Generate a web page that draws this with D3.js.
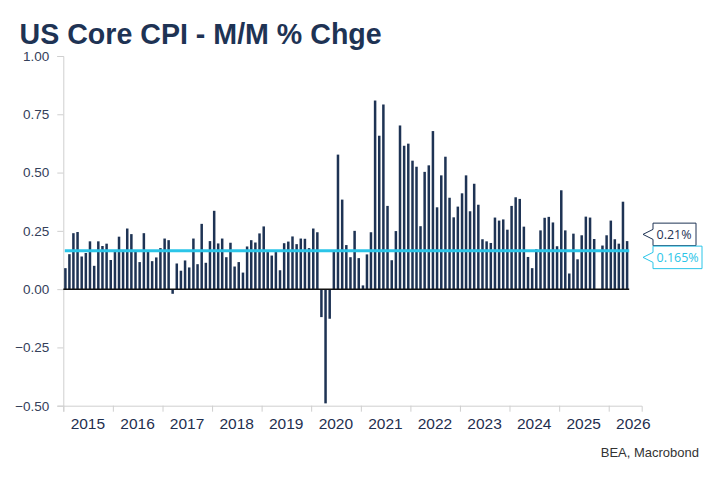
<!DOCTYPE html>
<html>
<head>
<meta charset="utf-8">
<script src="https://cdn.jsdelivr.net/npm/d3@7"></script>
<style>
  body { margin: 0; background: #fff; }
  svg { display: block; font-family: "Liberation Sans", Arial, sans-serif; }
</style>
</head>
<body>
<div id="chart"></div>
<script>
// Monthly core CPI, % change m/m, starting Jan 2015 (null = not published)
var startYear = 2015;
var values = [
  0.09, 0.15, 0.24, 0.245, 0.14, 0.155, 0.205, 0.10, 0.205, 0.185, 0.195, 0.125,   // 2015
  0.165, 0.225, 0.165, 0.26, 0.236, 0.16, 0.116, 0.24, 0.165, 0.12, 0.136, 0.176,   // 2016
  0.217, 0.21, -0.02, 0.11, 0.079, 0.123, 0.093, 0.217, 0.107, 0.28, 0.113, 0.206,  // 2017
  0.336, 0.196, 0.217, 0.137, 0.199, 0.097, 0.116, 0.071, 0.183, 0.21, 0.2, 0.239,  // 2018
  0.269, 0.159, 0.144, 0.159, 0.081, 0.197, 0.204, 0.226, 0.193, 0.217, 0.216, 0.176, // 2019
  0.26, 0.244, -0.12, -0.49, -0.127, 0.16, 0.577, 0.384, 0.189, 0.137, 0.25, 0.133, // 2020
  0.016, 0.149, 0.244, 0.809, 0.658, 0.792, 0.357, 0.124, 0.249, 0.702, 0.615, 0.624, // 2021
  0.551, 0.525, 0.27, 0.503, 0.531, 0.678, 0.351, 0.488, 0.568, 0.392, 0.308, 0.354, // 2022
  0.411, 0.488, 0.334, 0.452, 0.362, 0.214, 0.205, 0.198, 0.307, 0.294, 0.299, 0.255, // 2023
  0.357, 0.394, 0.387, 0.268, 0.138, 0.09, 0.171, 0.252, 0.306, 0.31, 0.286, 0.184,  // 2024
  0.424, 0.252, 0.067, 0.238, 0.128, 0.231, 0.311, 0.307, 0.215, null, 0.187, 0.231, // 2025
  0.294, 0.214, 0.195, 0.375, 0.206                                                  // 2026
];
var average = 0.165;
var yTicks = [-0.50, -0.25, 0.00, 0.25, 0.50, 0.75, 1.00];
var yearLabels = [2015, 2016, 2017, 2018, 2019, 2020, 2021, 2022, 2023, 2024, 2025, 2026];

var W = 722, H = 482;
var navy = "#1e3354", cyan = "#2bc5e8", grid = "#cfcfcf";

var data = values.map(function(v, i) {
  return {date: new Date(startYear, i, 1), value: v};
});
var lastValue = values[values.length - 1];

var x = d3.scaleTime()
  .domain([new Date(2015, 0, 1), new Date(2026, 8, 1)])
  .range([63.3, 641.7]);
var y = d3.scaleLinear().domain([-0.5, 1.0]).range([405.7, 56]);

var svg = d3.select("#chart").append("svg").attr("width", W).attr("height", H);

// Title
svg.append("text").attr("x", 19.5).attr("y", 43.5)
  .style("font-size", "28.6px").style("font-weight", "bold").style("fill", navy)
  .text("US Core CPI - M/M % Chge");

// Y axis
var yAxis = d3.axisLeft(y).tickValues(yTicks).tickFormat(d3.format(".2f")).tickSize(6).tickPadding(8);
var gy = svg.append("g").attr("transform", "translate(63.3,0)").call(yAxis);
gy.select(".domain").attr("stroke", grid);
gy.selectAll(".tick line").attr("stroke", grid);
gy.selectAll(".tick text").style("font-size", "13.5px").style("fill", "#34405a")
  .style("font-family", "'Liberation Sans', Arial, sans-serif");

// X axis: ticks at year starts, labels in the middle of each year
var xAxis = d3.axisBottom(x).ticks(d3.timeYear.every(1)).tickFormat("").tickSizeOuter(0).tickSize(6);
var gx = svg.append("g").attr("transform", "translate(0,405.7)").call(xAxis);
gx.select(".domain").attr("stroke", grid);
gx.selectAll(".tick line").attr("stroke", grid);
svg.append("g").selectAll("text").data(yearLabels).enter().append("text")
  .attr("x", function(d) { return x(new Date(d, 6, 1)); })
  .attr("y", 429)
  .attr("text-anchor", "middle")
  .style("font-size", "15.5px").style("fill", "#1f2f4f")
  .text(function(d) { return d; });

// Bars
function mid(d) { return (x(d.date) + x(d3.timeMonth.offset(d.date, 1))) / 2; }
var bw = 2.5;
svg.append("g").selectAll("rect").data(data.filter(function(d) { return d.value !== null; }))
  .enter().append("rect")
  .attr("x", function(d) { return mid(d) - bw / 2; })
  .attr("width", bw)
  .attr("y", function(d) { return y(Math.max(0, d.value)); })
  .attr("height", function(d) { return Math.abs(y(d.value) - y(0)); })
  .attr("fill", navy);

var x0 = x(data[0].date), x1 = x(d3.timeMonth.offset(data[data.length - 1].date, 1));

// Zero line
svg.append("line").attr("x1", x0).attr("x2", x1).attr("y1", y(0)).attr("y2", y(0))
  .attr("stroke", "#111").attr("stroke-width", 1.5);

// Average line
svg.append("line").attr("x1", x0 + 1.5).attr("x2", x1).attr("y1", y(average)).attr("y2", y(average))
  .attr("stroke", cyan).attr("stroke-width", 3);

// Value tags on the right
var tags = [
  {value: lastValue, text: d3.format(".2f")(lastValue) + "%", color: navy, w: 43},
  {value: average, text: d3.format(".3f")(average) + "%", color: cyan, w: 49}
];
var bh = 22.5, ya = y(tags[0].value), yb = y(tags[1].value);
if (Math.abs(ya - yb) < bh + 1) {
  var m = (ya + yb) / 2;
  ya = m - (bh + 0.5) / 2; yb = m + (bh + 0.5) / 2;
}
tags[0].cy = ya; tags[1].cy = yb;
var bx = 653, tip = 643;
var gt = svg.append("g").selectAll("g").data(tags).enter().append("g");
gt.append("path")
  .attr("d", function(d) {
    var t = d.cy - bh / 2, b = d.cy + bh / 2;
    return "M" + bx + "," + t + "H" + (bx + d.w) + "V" + b + "H" + bx +
      "V" + (d.cy + 5) + "L" + tip + "," + d.cy + "L" + bx + "," + (d.cy - 5) + "Z";
  })
  .attr("fill", "#fff").attr("stroke", function(d) { return d.color; }).attr("stroke-width", 1);
gt.append("text")
  .attr("x", bx + 3.5).attr("y", function(d) { return d.cy + 4.5; })
  .style("font-family", "'Open Sans', 'Noto Sans', sans-serif")
  .style("font-size", "12.5px").style("fill", function(d) { return d.color; })
  .text(function(d) { return d.text; });

// Source
svg.append("text").attr("x", 699).attr("y", 456.5).attr("text-anchor", "end")
  .style("font-size", "13px").style("fill", "#333")
  .text("BEA, Macrobond");
</script>
</body>
</html>
